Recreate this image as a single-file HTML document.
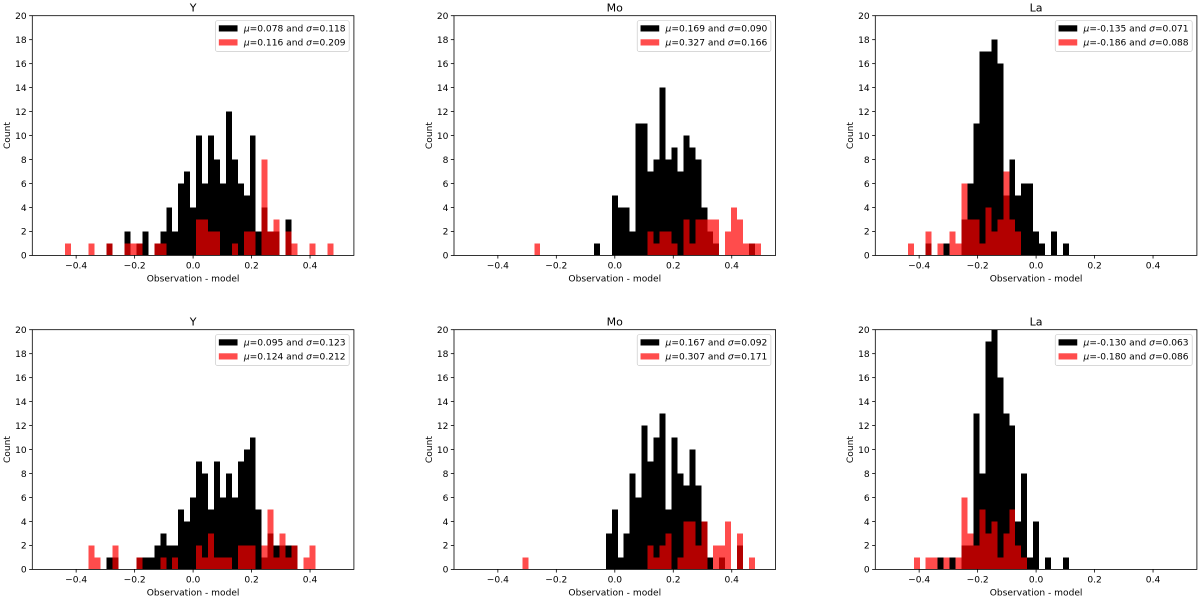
<!DOCTYPE html>
<html>
<head>
<meta charset="utf-8">
<title>Observation minus model histograms</title>
<style>
html,body{margin:0;padding:0;background:#fff;width:1200px;height:598px;overflow:hidden}
svg{display:block;filter:blur(0.35px)}
text{font-family:"DejaVu Sans","Liberation Sans",sans-serif;font-size:9.1px;fill:#000}
</style>
</head>
<body>
<svg id="chart" xmlns="http://www.w3.org/2000/svg" width="1200" height="598" viewBox="0 0 1200 598"></svg>
<script>
// Histogram counts per bin (49 bins spanning -0.5 to 0.5)
var yTopBlack=[0,0,0,0,0,0,0,0,0,0,1,0,0,2,0,1,2,0,1,2,4,2,6,7,4,10,6,10,8,6,12,8,6,5,10,2,4,2,2,0,3,0,0,0,0,0,0,0,0];
var yTopRed=[0,0,0,1,0,0,0,1,0,0,1,0,0,1,1,1,0,0,1,1,0,0,0,0,0,3,3,2,2,0,0,1,0,2,2,0,8,2,3,0,2,1,0,0,1,0,0,1,0];
var moTopBlack=[0,0,0,0,0,0,0,0,0,0,0,0,0,0,0,0,0,0,0,0,0,1,0,0,5,4,4,2,11,11,7,8,14,8,9,7,10,9,8,4,2,1,0,0,0,0,0,1,0];
var moTopRed=[0,0,0,0,0,0,0,0,0,0,0,1,0,0,0,0,0,0,0,0,0,0,0,0,0,0,0,0,0,0,2,1,2,2,1,0,3,1,3,3,3,3,0,2,4,3,1,1,1];
var laTopBlack=[0,0,0,0,0,0,1,0,0,1,0,0,3,6,11,17,17,18,16,5,8,5,6,6,2,1,0,2,0,1,0,0,0,0,0,0,0,0,0,0,0,0,0,0,0,0,0,0,0];
var laTopRed=[0,0,0,1,0,0,2,0,1,0,2,1,6,3,3,1,4,2,3,7,3,2,0,0,0,0,0,0,0,0,0,0,0,0,0,0,0,0,0,0,0,0,0,0,0,0,0,0,0];
var yBottomBlack=[0,0,0,0,0,0,0,0,0,0,1,1,0,0,0,1,1,1,2,3,2,2,5,4,6,9,8,5,9,6,8,6,9,10,11,5,1,3,2,2,2,2,0,0,0,0,0,0,0];
var yBottomRed=[0,0,0,0,0,0,0,2,1,0,0,2,0,0,0,1,0,0,0,1,0,1,0,0,0,2,1,3,1,1,1,0,2,2,2,0,2,5,1,3,1,2,0,1,2,0,0,0,0];
var moBottomBlack=[0,0,0,0,0,0,0,0,0,0,0,0,0,0,0,0,0,0,0,0,0,0,0,3,5,1,3,8,6,12,9,11,13,5,11,8,7,10,7,4,1,0,1,0,0,2,0,0,0];
var moBottomRed=[0,0,0,0,0,0,0,0,0,1,0,0,0,0,0,0,0,0,0,0,0,0,0,0,0,0,0,0,0,0,2,1,2,3,0,1,4,4,2,4,0,2,2,4,0,3,0,1,0];
var laBottomBlack=[0,0,0,0,0,0,0,0,1,0,1,0,2,2,13,8,19,20,16,13,12,4,8,1,4,0,1,0,0,1,0,0,0,0,0,0,0,0,0,0,0,0,0,0,0,0,0,0,0];
var laBottomRed=[0,0,0,0,1,0,1,1,0,1,0,1,6,3,2,5,3,4,1,3,5,2,1,0,0,0,0,0,0,0,0,0,0,0,0,0,0,0,0,0,0,0,0,0,0,0,0,0,0];

// Axis tick labels
var xTicks=[-0.4,-0.2,0.0,0.2,0.4];
var yTicks=[0,2,4,6,8,10,12,14,16,18,20];

// Titles and legend values
var panelTitles=["Y","Mo","La","Y","Mo","La"];
var blackMu=["0.078","0.169","-0.135","0.095","0.167","-0.130"];
var blackSigma=["0.118","0.090","0.071","0.123","0.092","0.063"];
var redMu=["0.116","0.327","-0.186","0.124","0.307","-0.180"];
var redSigma=["0.209","0.166","0.088","0.212","0.171","0.086"];
var blackCounts=[yTopBlack,moTopBlack,laTopBlack,yBottomBlack,moBottomBlack,laBottomBlack];
var redCounts=[yTopRed,moTopRed,laTopRed,yBottomRed,moBottomRed,laBottomRed];

var svg=document.getElementById('chart');
var NS='http://www.w3.org/2000/svg';
var AXW=321.6, AXH=239.7;
var lefts=[32.3,454,875.3];
var tops=[15.7,329.7];
var XMIN=-0.55, XMAX=0.55, YMAX=20, BINS=49, BINLO=-0.5, BINHI=0.5;

function mk(tag,attrs,parent,txt){
  var el=document.createElementNS(NS,tag);
  for(var k in attrs){el.setAttribute(k,attrs[k]);}
  if(txt!==undefined){el.textContent=txt;}
  parent.appendChild(el);
  return el;
}

function drawBars(g,counts,sx,sy,color,op,label){
  var w=(BINHI-BINLO)/BINS;
  for(var i=0;i<counts.length;i++){
    if(!counts[i]){continue;}
    var x0=sx(BINLO+i*w), x1=sx(BINLO+(i+1)*w);
    var r=mk('rect',{x:x0,y:sy(counts[i]),width:x1-x0,height:sy(0)-sy(counts[i]),fill:color,'fill-opacity':op,'shape-rendering':'crispEdges'},g);
    
    
  }
}

function drawLegendLabel(g,x,y,mu,sigma,name){
  var t=mk('text',{x:x,y:y},g);
  
  
  mk('tspan',{'font-style':'italic'},t,'\u03BC');
  mk('tspan',{},t,'='+mu+' and ');
  mk('tspan',{'font-style':'italic'},t,'\u03C3');
  mk('tspan',{},t,'='+sigma);
  return t;
}

function drawPanel(idx){
  var L=lefts[idx%3], T=tops[Math.floor(idx/3)];
  var sx=function(v){return L+(v-XMIN)/(XMAX-XMIN)*AXW;};
  var sy=function(v){return T+AXH-v/YMAX*AXH;};
  var g=mk('g',{},svg);
  
  

  drawBars(g,blackCounts[idx],sx,sy,'#000',1,'observed-count-bar');
  drawBars(g,redCounts[idx],sx,sy,'#f00',0.7,'model-count-bar');

  // ticks
  xTicks.forEach(function(v){
    var tk=mk('line',{x1:sx(v),x2:sx(v),y1:T+AXH,y2:T+AXH+3.15,stroke:'#000','stroke-width':0.8},g);
    
    
    var lb=mk('text',{x:sx(v),y:T+AXH+13.3,'text-anchor':'middle'},g,(v<0?'\u2212':'')+Math.abs(v).toFixed(1));
    
    
  });
  yTicks.forEach(function(v){
    var tk=mk('line',{x1:L-3.15,x2:L,y1:sy(v),y2:sy(v),stroke:'#000','stroke-width':0.8},g);
    
    
    var lb=mk('text',{x:L-5.6,y:sy(v)+3.3,'text-anchor':'end'},g,String(v));
    
    
  });

  // frame
  var fr=mk('rect',{x:L,y:T,width:AXW,height:AXH,fill:'none',stroke:'#000','stroke-width':0.8},g);
  
  

  // labels
  var ti=mk('text',{x:L+AXW/2,y:T-4,'text-anchor':'middle',style:'font-size:11px'},g,panelTitles[idx]);
  
  
  var xl=mk('text',{x:L+AXW/2,y:T+AXH+26,'text-anchor':'middle'},g,'Observation - model');
  
  
  var cy=T+AXH/2, cx=L-22.2;
  var yl=mk('text',{x:cx,y:cy,'text-anchor':'middle',transform:'rotate(-90 '+cx+' '+cy+')'},g,'Count');
  
  

  // legend
  var lg=mk('g',{},g);
  
  
  var box=mk('rect',{y:T+5,height:30.7,rx:1.8,ry:1.8,fill:'#fff','fill-opacity':0.8,stroke:'#ccc','stroke-width':0.72},lg);
  
  
  var p1=mk('rect',{y:T+9.6,width:18.7,height:6.2,fill:'#000'},lg);
  
  
  var p2=mk('rect',{y:T+23.6,width:18.7,height:6.2,fill:'#f00','fill-opacity':0.7},lg);
  
  
  var t1=drawLegendLabel(lg,0,T+15.7,blackMu[idx],blackSigma[idx],'legend-entry-black');
  var t2=drawLegendLabel(lg,0,T+29.7,redMu[idx],redSigma[idx],'legend-entry-red');
  var tw=Math.max(t1.getComputedTextLength(),t2.getComputedTextLength());
  var bw=3.3+18.7+6.3+tw+3.6;
  var bx=L+AXW-4.7-bw;
  box.setAttribute('x',bx);
  box.setAttribute('width',bw);
  p1.setAttribute('x',bx+3.3);
  p2.setAttribute('x',bx+3.3);
  t1.setAttribute('x',bx+28.3);
  t2.setAttribute('x',bx+28.3);
}

for(var p=0;p<6;p++){drawPanel(p);}
</script>
</body>
</html>
